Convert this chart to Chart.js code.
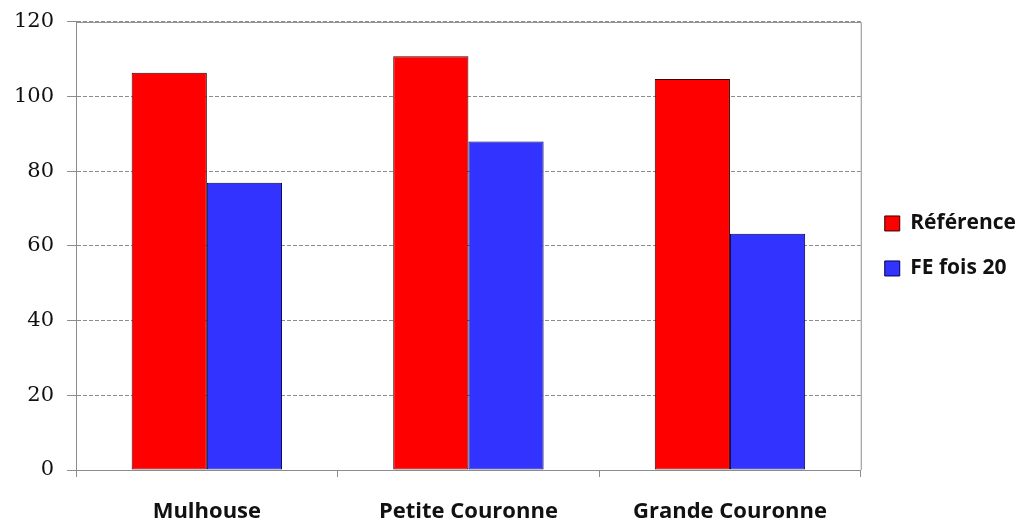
<!DOCTYPE html>
<html>
<head>
<meta charset="utf-8">
<script src="https://cdn.jsdelivr.net/npm/chart.js@4"></script>
<style>
  html, body { margin: 0; padding: 0; background: #ffffff; }
  #wrap { width: 1020px; height: 525px; position: relative; }
</style>
</head>
<body>
<div id="wrap"><canvas id="c" width="1020" height="525"></canvas></div>
<script>
// Categories and series
const categories = ['Mulhouse', 'Petite Couronne', 'Grande Couronne'];
const seriesNames = ['Référence', 'FE fois 20'];
const referenceValues = [106.4, 110.8, 104.7];
const feFois20Values = [76.9, 88.0, 63.3];
const yTicks = [0, 20, 40, 60, 80, 100, 120];

const AXIS_GREY = '#8c8c8c';

// Solid frame around the plotting area (top edge and right edge)
const frame = {
  id: 'frame',
  afterDatasetsDraw(chart) {
    const { ctx, chartArea: a } = chart;
    ctx.save();
    ctx.strokeStyle = AXIS_GREY;
    ctx.lineWidth = 1;
    ctx.beginPath();
    ctx.moveTo(a.left, a.top + 0.5);
    ctx.lineTo(a.right + 0.5, a.top + 0.5);
    ctx.lineTo(a.right + 0.5, a.bottom);
    ctx.stroke();
    ctx.restore();
  }
};

new Chart(document.getElementById('c'), {
  type: 'bar',
  data: {
    labels: categories,
    datasets: [
      {
        label: seriesNames[0],
        data: referenceValues,
        backgroundColor: '#ff0000',
        borderColor: '#3a0000',
        borderWidth: 1,
        borderSkipped: false
      },
      {
        label: seriesNames[1],
        data: feFois20Values,
        backgroundColor: '#3333ff',
        borderColor: '#00004d',
        borderWidth: 1,
        borderSkipped: false
      }
    ]
  },
  options: {
    responsive: false,
    animation: false,
    devicePixelRatio: 1,
    layout: { padding: { top: 0, left: 1, right: -6, bottom: 0 } },
    datasets: { bar: { categoryPercentage: 0.575, barPercentage: 1.0 } },
    plugins: {
      tooltip: { enabled: false },
      legend: {
        position: 'right',
        align: 'center',
        fullSize: false,
        labels: {
          boxWidth: 15,
          boxHeight: 15,
          padding: 24,
          color: '#111111',
          font: { family: 'Open Sans', weight: 'bold', size: 21 }
        }
      }
    },
    scales: {
      x: {
        afterFit(scale) { scale.height = 55; },
        grid: {
          offset: true,
          drawOnChartArea: false,
          drawTicks: true,
          tickLength: 7,
          color: AXIS_GREY
        },
        border: { display: true, color: AXIS_GREY, width: 1 },
        ticks: {
          color: '#111111',
          padding: 22,
          maxRotation: 0,
          minRotation: 0,
          autoSkip: false,
          font: { family: 'Open Sans', weight: 'bold', size: 22 }
        }
      },
      y: {
        min: 0,
        max: 120,
        afterBuildTicks(axis) { axis.ticks = yTicks.map(v => ({ value: v })); },
        grid: {
          color: AXIS_GREY,
          lineWidth: 1,
          drawTicks: true,
          tickLength: 9,
          tickColor: AXIS_GREY,
          tickBorderDash: []
        },
        border: { display: true, color: AXIS_GREY, width: 1, dash: [4, 2] },
        ticks: {
          color: '#111111',
          padding: 13,
          font: { family: 'DejaVu Serif', size: 21, lineHeight: 0.85 }
        }
      }
    }
  },
  plugins: [frame]
});
</script>
</body>
</html>
